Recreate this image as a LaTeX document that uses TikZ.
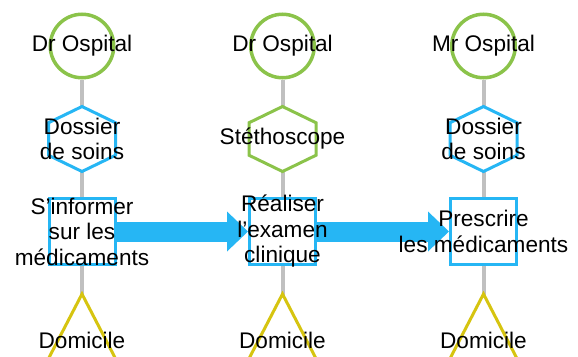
\documentclass[tikz,border=0pt]{standalone}
\usepackage{fontspec}
\setmainfont{Liberation Sans}
\usetikzlibrary{arrows.meta,backgrounds}
\definecolor{ospgreen}{RGB}{139,195,74}
\definecolor{ospblue}{RGB}{38,182,244}
\definecolor{ospyellow}{RGB}{214,196,16}
\definecolor{ospgray}{RGB}{192,192,192}

\begin{document}
\begin{tikzpicture}[x=1pt, y=-1pt, every node/.style={font=\fontsize{22.6}{25.5}\selectfont, align=center}, actor/.style={circle, draw=ospgreen, line width=3.5pt, fill=white, minimum size=63.5pt}, task/.style={draw=ospblue, line width=3pt, fill=white, minimum size=66pt}, hexa/.style={line width=3pt, fill=white}, home/.style={draw=ospyellow, line width=3pt, fill=white}, flow/.style={draw=ospblue, line width=20pt, -{Triangle[length=21pt, width=40pt, line width=0pt]}}, link/.style={draw=ospgray, line width=4pt}]
\useasboundingbox (0,0) rectangle (578,356);
\clip (0,0) rectangle (578,356);
% actors
\node[actor, label=center:Dr Ospital] (c1) at (82,46) {};
\node[actor, label=center:Dr Ospital] (c2) at (282.5,46) {};
\node[actor, label=center:Mr Ospital] (c3) at (483.5,46) {};
% tools
\node (h1) at (82,139) {Dossier\\de soins};
\node (h2) at (282.5,139) {Stéthoscope};
\node (h3) at (483.5,139) {Dossier\\de soins};
% tasks
\node[task, label={center:S’informer\\sur les\\médicaments}] (s1) at (82,231.5) {};
\node[task, label={center:Réaliser\\l’examen\\clinique}] (s2) at (282.5,231.5) {};
\node[task, label={center:Prescrire\\les médicaments}] (s3) at (483.5,231.5) {};
% places
\node (d1) at (82,340) {Domicile};
\node (d2) at (282.5,340) {Domicile};
\node (d3) at (483.5,340) {Domicile};
\begin{scope}[on background layer]
\draw[link] (c1) -- (h1) -- (s1) -- (d1);
\draw[link] (c2) -- (h2) -- (s2) -- (d2);
\draw[link] (c3) -- (h3) -- (s3) -- (d3);
\draw[flow] (s1) -- (s2);
\draw[flow] (s2) -- (s3);
\draw[hexa, draw=ospblue] (h1) ++(0,-32.5) -- ++(33.5,16.25) -- ++(0,32.5) -- ++(-33.5,16.25) -- ++(-33.5,-16.25) -- ++(0,-32.5) -- cycle;
\draw[hexa, draw=ospgreen] (h2) ++(0,-32.5) -- ++(33.5,16.25) -- ++(0,32.5) -- ++(-33.5,16.25) -- ++(-33.5,-16.25) -- ++(0,-32.5) -- cycle;
\draw[hexa, draw=ospblue] (h3) ++(0,-32.5) -- ++(33.5,16.25) -- ++(0,32.5) -- ++(-33.5,16.25) -- ++(-33.5,-16.25) -- ++(0,-32.5) -- cycle;
\draw[home] (d1) ++(0,-46) -- ++(55,106) -- ++(-110,0) -- cycle;
\draw[home] (d2) ++(0,-46) -- ++(55,106) -- ++(-110,0) -- cycle;
\draw[home] (d3) ++(0,-46) -- ++(55,106) -- ++(-110,0) -- cycle;
\end{scope}
\end{tikzpicture}
\end{document}
